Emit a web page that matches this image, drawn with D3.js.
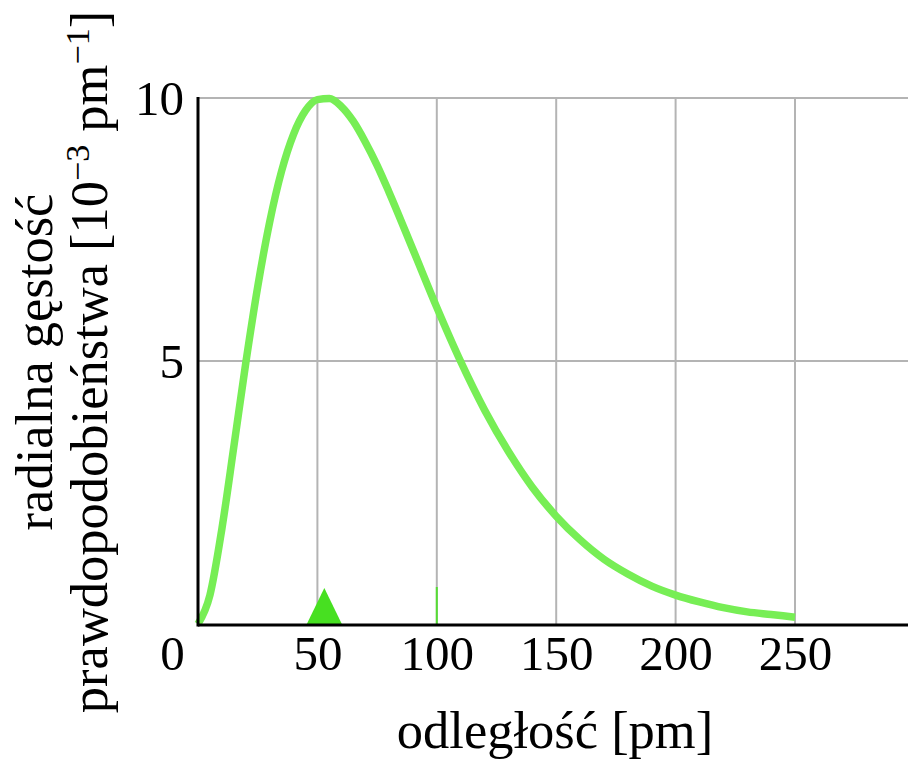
<!DOCTYPE html>
<html>
<head>
<meta charset="utf-8">
<script src="https://cdn.jsdelivr.net/npm/d3@7"></script>
<style>
  html, body { margin: 0; padding: 0; background: #fff; }
  svg { display: block; }
  text { font-family: "Liberation Serif", "DejaVu Serif", serif; fill: #000; }
</style>
</head>
<body>
<svg id="chart" width="908" height="761"></svg>
<script>
// ---- data ----
const radius = [0, 5, 10, 15, 20, 25, 30, 35, 40, 45, 50, 55, 60, 65, 70, 75, 80, 90, 100, 110, 120, 130, 140, 150, 160, 170, 180, 190, 200, 210, 220, 230, 240, 250];
const density = [0, 0.55, 1.81, 3.37, 4.96, 6.41, 7.64, 8.61, 9.31, 9.76, 9.97, 9.99, 9.84, 9.56, 9.17, 8.72, 8.21, 7.12, 6.02, 4.99, 4.07, 3.28, 2.60, 2.05, 1.60, 1.23, 0.95, 0.72, 0.55, 0.42, 0.31, 0.23, 0.18, 0.13];
const xTicks = [0, 50, 100, 150, 200, 250];
const yTicks = [0, 5, 10];
const mostProbable = 52.9;   // triangle marker position [pm]
const markLine = 100;        // short green mark on the axis [pm]
const xTitle = "odległość [pm]";
const yTitle1 = "radialna gęstość";
const yTitle2a = "prawdopodobieństwa [10";
const yTitle2b = "pm";

const svg = d3.select("#chart");
const x = d3.scaleLinear().domain([0, 300]).range([198, 914.4]);
const y = d3.scaleLinear().domain([0, 10]).range([624, 98]);
const tickFont = 49;
const titleFont = 52.5;

// gridlines
const grid = svg.append("g");
grid.selectAll("line.v").data(xTicks.filter(d => d > 0)).join("line")
  .attr("x1", d => x(d)).attr("x2", d => x(d))
  .attr("y1", y(10)).attr("y2", y(0))
  .attr("stroke", "#b4b4b4").attr("stroke-width", 2);
grid.selectAll("line.h").data(yTicks.filter(d => d > 0)).join("line")
  .attr("x1", x(0)).attr("x2", 908)
  .attr("y1", d => y(d)).attr("y2", d => y(d))
  .attr("stroke", "#b4b4b4").attr("stroke-width", 2);

// short green mark at 100 pm
svg.append("line")
  .attr("x1", x(markLine)).attr("x2", x(markLine))
  .attr("y1", y(0) - 37).attr("y2", y(0))
  .attr("stroke", "#55dd33").attr("stroke-width", 2);

// curve
const line = d3.line().x((d, i) => x(radius[i])).y(d => y(d)).curve(d3.curveMonotoneX);
svg.append("path")
  .attr("d", line(density))
  .attr("fill", "none")
  .attr("stroke", "#77ee55")
  .attr("stroke-width", 7.5);

// triangle marker
const tx = x(mostProbable), ty = y(0) + 1;
svg.append("path")
  .attr("d", `M${tx - 18},${ty} L${tx},${ty - 37} L${tx + 18},${ty} Z`)
  .attr("fill", "#47e021");

// axes lines
svg.append("line").attr("x1", x(0)).attr("x2", 908).attr("y1", 625).attr("y2", 625)
  .attr("stroke", "#000").attr("stroke-width", 3);
svg.append("line").attr("x1", x(0)).attr("x2", x(0)).attr("y1", y(10) - 1).attr("y2", 626.5)
  .attr("stroke", "#000").attr("stroke-width", 3);

// x axis via d3 axis (labels only)
const xAxis = svg.append("g").attr("transform", "translate(0,625)")
  .call(d3.axisBottom(x).tickValues(xTicks).tickSize(0).tickPadding(0).tickFormat(d3.format("d")));
xAxis.select(".domain").remove();
xAxis.selectAll("text")
  .attr("y", 45).attr("dy", 0)
  .style("font-size", tickFont + "px")
  .style("font-family", "Liberation Serif, serif")
  .attr("fill", "#000")
  .attr("dx", d => d === 0 ? -26 : 0);

// y axis via d3 axis (labels only, 0 shared with x axis)
const yAxis = svg.append("g").attr("transform", `translate(${x(0)},0)`)
  .call(d3.axisLeft(y).tickValues(yTicks.filter(d => d > 0)).tickSize(0).tickPadding(14).tickFormat(d3.format("d")));
yAxis.select(".domain").remove();
yAxis.selectAll("text")
  .attr("dy", "0.34em")
  .style("font-size", tickFont + "px")
  .style("font-family", "Liberation Serif, serif")
  .attr("fill", "#000");

// x title
svg.append("text").attr("x", 555).attr("y", 748)
  .attr("text-anchor", "middle").style("font-size", titleFont + "px")
  .text(xTitle);

// y title (two lines, rotated)
svg.append("text").attr("transform", "translate(52,362) rotate(-90)")
  .attr("text-anchor", "middle").style("font-size", titleFont + "px")
  .text(yTitle1);
const t2 = svg.append("text").attr("transform", "translate(107,362) rotate(-90)")
  .attr("text-anchor", "middle").style("font-size", titleFont + "px");
t2.append("tspan").text(yTitle2a);
t2.append("tspan").attr("dy", -18).style("font-size", "34px").text("\u22123");
t2.append("tspan").attr("dy", 18).text(" " + yTitle2b);
t2.append("tspan").attr("dy", -18).style("font-size", "34px").text("\u22121");
t2.append("tspan").attr("dy", 18).text("]");
</script>
</body>
</html>
